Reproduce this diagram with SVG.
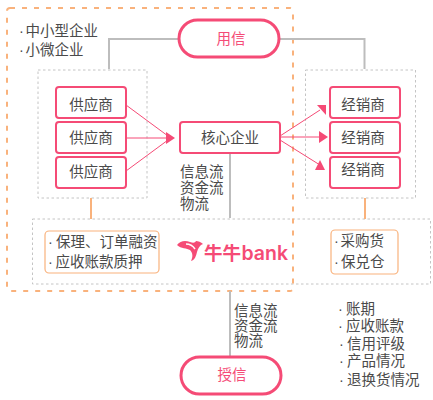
<svg xmlns="http://www.w3.org/2000/svg" width="433" height="400" viewBox="0 0 433 400">
<style>
text{font-family:"Liberation Sans","Noto Sans CJK SC",sans-serif;font-size:14.500px;fill:#4a4a4a}
.c{text-anchor:middle}
.node{fill:#fff;stroke:#f54b76;stroke-width:2}
.pill{fill:#fff;stroke:#f54b76;stroke-width:3}
text.pt{fill:#f54b76;text-anchor:middle}
.dot{fill:none;stroke:#c4c4c4;stroke-width:1;stroke-dasharray:2.500 2.500}
.sub{fill:#fff;stroke:#f9b27c;stroke-width:1.200}
.g{fill:none;stroke:#bdbdbd;stroke-width:2}
.o{fill:none;stroke:#f9b27c;stroke-width:2}
.a{fill:none;stroke:#f54b76;stroke-width:1}
.h{fill:#f54b76}
</style>
<g id="groups">
<rect class="dot" x="38" y="70" width="109" height="128"/>
<rect class="dot" x="305.500" y="70" width="110" height="128"/>
<rect class="dot" x="32.500" y="219" width="398" height="65"/>
</g>
<rect id="scope" x="7" y="8" width="286" height="283" rx="3" fill="none" stroke="#f9b27c" stroke-width="2" stroke-dasharray="5 7"/>
<g id="connectors">
<path class="g" d="M178 39H364.500V69" stroke-dasharray="0"/>
<path class="g" d="M178 39H109V69"/>
<path class="g" d="M230 153V218"/>
<path class="g" d="M230 291V356"/>
<path class="o" d="M91 198V219"/>
<path class="o" d="M365 198V219"/>
<path class="a" d="M126 105L168 136"/>
<path class="a" d="M126 138H168"/>
<path class="a" d="M126 171L168 140"/>
<path class="h" d="M166 132L175 138L166 144Z"/>
<path class="a" d="M280 136L320 110"/>
<path class="a" d="M280 137H322"/>
<path class="a" d="M280 140L320 165"/>
<path class="h" d="M317 105L326 105L326 115Z"/>
<path class="h" d="M319 131L328 137L319 143Z"/>
<path class="h" d="M315 170L325 170L320 160Z"/>
</g>
<g id="yongxin"><rect class="pill" x="179" y="20" width="100" height="37" rx="18.500"/><text class="pt" x="231" y="44">用信</text></g>
<g id="shouxin"><rect class="pill" x="181" y="357" width="100" height="37" rx="18.500"/><text class="pt" x="232" y="380">授信</text></g>
<g id="s1"><rect class="node" x="56" y="87" width="70" height="31" rx="3"/><text class="c" x="91" y="110">供应商</text></g>
<g id="s2"><rect class="node" x="56" y="122" width="70" height="31" rx="3"/><text class="c" x="91" y="143">供应商</text></g>
<g id="s3"><rect class="node" x="56" y="157" width="70" height="31" rx="3"/><text class="c" x="91" y="177">供应商</text></g>
<g id="core"><rect class="node" x="180" y="122" width="100" height="31" rx="3"/><text class="c" x="230" y="143">核心企业</text></g>
<g id="d1"><rect class="node" x="330" y="87" width="70" height="31" rx="3"/><text class="c" x="363" y="110">经销商</text></g>
<g id="d2"><rect class="node" x="330" y="122" width="70" height="31" rx="3"/><text class="c" x="363" y="143">经销商</text></g>
<g id="d3"><rect class="node" x="330" y="157" width="70" height="31" rx="3"/><text class="c" x="363" y="175">经销商</text></g>
<g id="scopeLabel"><text x="19" y="36">·<tspan x="25.500">中小型企业</tspan></text><text x="19" y="55">·<tspan x="25.500">小微企业</tspan></text></g>
<g id="flow1"><text x="180" y="177">信息流</text><text x="180" y="193">资金流</text><text x="180" y="209">物流</text></g>
<g id="flow2"><text x="234" y="316">信息流</text><text x="234" y="331">资金流</text><text x="234" y="346">物流</text></g>
<g id="finance"><rect class="sub" x="45" y="231" width="114" height="42" rx="4"/><text x="48" y="247">·<tspan x="56">保理、订单融资</tspan></text><text x="48" y="267">·<tspan x="55.500">应收账款质押</tspan></text></g>
<g id="logistics"><rect class="sub" x="331" y="230" width="67" height="44" rx="4"/><text x="334" y="246">·<tspan x="340.500">采购货</tspan></text><text x="334" y="267">·<tspan x="341">保兑仓</tspan></text></g>
<g id="logo">
<path d="M177 245C180 241 185 240 190 242C193 243 195 243 196 241C198 241 201 242 203 244C200 245 198 248 197 252C196 256 195 260 191 261C193 257 193 253 190 250C187 248 181 249 177 245Z" fill="#f54b76"/>
<path d="M186 244C190 244 193 246 195 249" fill="none" stroke="#fff" stroke-width="1.500"/>
<text x="204" y="260" style="font-size:18.500px;font-weight:bold;fill:#f54b76" textLength="37" lengthAdjust="spacingAndGlyphs">牛牛</text>
<text x="241.500" y="260" style="font-family:'Inter',sans-serif;font-size:20px;font-weight:600;fill:#f54b76" textLength="46.500" lengthAdjust="spacingAndGlyphs">bank</text>
</g>
<g id="terms">
<text x="338" y="314">·<tspan x="346">账期</tspan></text><text x="338" y="331">·<tspan x="346">应收账款</tspan></text><text x="339" y="349">·<tspan x="347">信用评级</tspan></text><text x="339" y="366">·<tspan x="347">产品情况</tspan></text><text x="339" y="385">·<tspan x="347">退换货情况</tspan></text>
</g>
</svg>
